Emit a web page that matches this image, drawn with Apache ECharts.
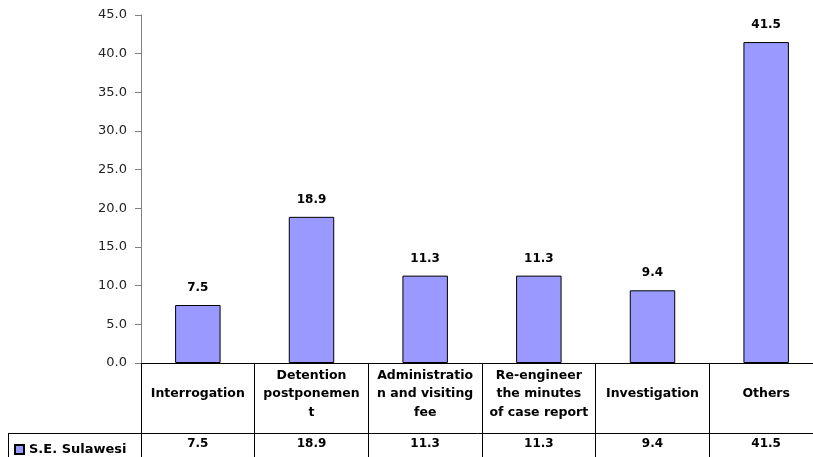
<!DOCTYPE html>
<html>
<head>
<meta charset="utf-8">
<script src="https://cdn.jsdelivr.net/npm/echarts@6/dist/echarts.min.js"></script>
<style>
  html, body { margin: 0; padding: 0; background: #fff; }
  #chart { width: 813px; height: 457px; }
</style>
</head>
<body>
<div id="chart"></div>
<script>
// categories as they wrap in the table cells
var categories = ["Interrogation", "Detention\npostponemen\nt", "Administratio\nn and visiting\nfee", "Re-engineer\nthe minutes\nof case report", "Investigation", "Others"];
var seriesName = "S.E. Sulawesi";
var values = [7.5, 18.9, 11.3, 11.3, 9.4, 41.5];
var yTicks = { min: 0, max: 45, interval: 5 };

var fontFam = "DejaVu Sans";
var myChart = echarts.init(document.getElementById("chart"));
var option = {
    animation: false,
    // plot runs past the right edge, like the original
    grid: { left: 141, top: 15, width: 682, bottom: 94, outerBoundsMode: "none", containLabel: false },
    legend: {
        data: [seriesName],
        left: 9, top: 438,
        icon: "rect",
        itemWidth: 9, itemHeight: 9,
        itemGap: 4,
        textStyle: { fontFamily: fontFam, fontWeight: "bold", fontSize: 13, color: "#000" }
    },
    xAxis: [
        {
            type: "category",
            data: categories,
            axisLine: { lineStyle: { color: "#000", width: 1 } },
            axisTick: { show: true, length: 94, lineStyle: { color: "#000" } },
            axisLabel: {
                interval: 0,
                margin: 31,
                verticalAlign: "middle",
                lineHeight: 18.5,
                fontFamily: fontFam, fontWeight: "bold", fontSize: 12.5, color: "#000"
            }
        },
        {
            type: "category",
            position: "bottom",
            offset: 70,
            data: values.map(function (v) { return v.toFixed(1); }),
            axisLine: { show: true, lineStyle: { color: "#000", width: 1 } },
            axisTick: { show: false },
            axisLabel: {
                interval: 0,
                margin: 11,
                verticalAlign: "middle",
                fontFamily: fontFam, fontWeight: "bold", fontSize: 12, color: "#000"
            }
        }
    ],
    yAxis: {
        type: "value",
        min: yTicks.min, max: yTicks.max, interval: yTicks.interval,
        axisLine: { show: true, lineStyle: { color: "#808080" } },
        axisTick: { show: true, length: 6, lineStyle: { color: "#808080" } },
        splitLine: { show: false },
        axisLabel: {
            margin: 14,
            fontFamily: fontFam, fontSize: 13, color: "#222",
            formatter: function (v) { return v.toFixed(1); }
        }
    },
    graphic: [
        { type: "line", shape: { x1: 8, y1: 433.5, x2: 141, y2: 433.5 }, style: { stroke: "#000", lineWidth: 1 } },
        { type: "line", shape: { x1: 8.5, y1: 433, x2: 8.5, y2: 457 }, style: { stroke: "#000", lineWidth: 1 } }
    ],
    series: [
        {
            name: seriesName,
            type: "bar",
            xAxisIndex: 0,
            barWidth: "40%",
            data: values,
            itemStyle: { color: "#9999FF", borderColor: "#000", borderWidth: 1 },
            label: {
                show: true,
                position: "top",
                distance: 11,
                fontFamily: fontFam, fontWeight: "bold", fontSize: 12, color: "#000",
                formatter: function (p) { return p.value.toFixed(1); }
            }
        }
    ]
};
myChart.setOption(option);
</script>
</body>
</html>
